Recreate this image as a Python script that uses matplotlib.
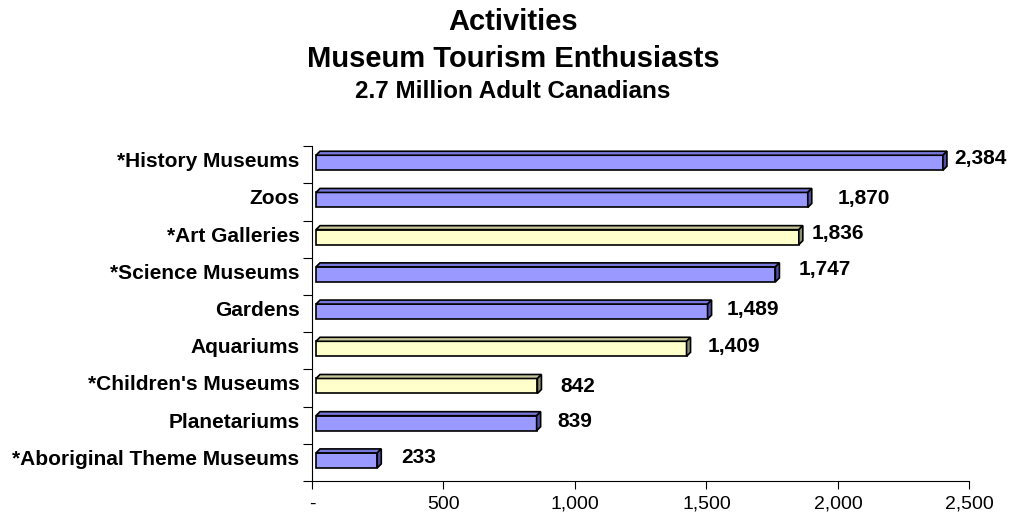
import numpy as np
import matplotlib.pyplot as plt
from matplotlib.patches import Polygon
import matplotlib.transforms as mtransforms

plt.rcParams['font.family'] = ['Liberation Sans', 'DejaVu Sans']

activities = ['*History Museums', 'Zoos', '*Art Galleries', '*Science Museums',
              'Gardens', 'Aquariums', "*Children's Museums", 'Planetariums',
              '*Aboriginal Theme Museums']
counts = [2384, 1870, 1836, 1747, 1489, 1409, 842, 839, 233]
groups = ['blue', 'blue', 'yellow', 'blue', 'blue', 'yellow', 'yellow', 'blue', 'blue']
xticks = [0, 500, 1000, 1500, 2000, 2500]

# front, top, side colours of the 3-D bars
palette = {'blue': ('#9999ff', '#7878dc', '#5050a4'),
           'yellow': ('#ffffcc', '#c8c89c', '#8f8f70')}
# value label offsets in pixels (right, up)
label_nudge = [(15, 6), (34, 3), (17, 6), (27, 7), (23, 4), (25, 4), (27, 1), (25, 4), (28, 5)]

fig = plt.figure(figsize=(10.13, 5.16), dpi=100)
ax = fig.add_axes([0.308, 0.0678, 0.649, 0.649])
n = len(activities)
ax.set_xlim(0, 2500)
ax.set_ylim(n - 0.5, -0.5)

W, H = fig.get_size_inches() * fig.dpi
ux = 2500 / (0.649 * W)   # data units per pixel
uy = n / (0.649 * H)

shift = 4 * ux      # gap between wall and front face
dx = 4 * ux         # bar depth
dy = 4 * uy
bar_h = 15 * uy
lift = 2 * uy

ypos = np.arange(n) - lift
fronts = [palette[g][0] for g in groups]
ax.barh(ypos, counts, left=shift, height=bar_h, color=fronts,
        edgecolor='black', linewidth=1.2, zorder=3)

for y, v, g in zip(ypos, counts, groups):
    _, top, side = palette[g]
    x0, x1 = shift, v + shift
    yt, yb = y - bar_h / 2, y + bar_h / 2
    ax.add_patch(Polygon([(x0, yt), (x1, yt), (x1 + dx, yt - dy), (x0 + dx, yt - dy)],
                         closed=True, fc=top, ec='black', lw=1.2, zorder=3))
    ax.add_patch(Polygon([(x1, yb), (x1, yt), (x1 + dx, yt - dy), (x1 + dx, yb - dy)],
                         closed=True, fc=side, ec='black', lw=1.2, zorder=3))

for i, (v, (ox, oy)) in enumerate(zip(counts, label_nudge)):
    ax.annotate(f'{v:,}', xy=(v, i), xytext=(ox, oy), textcoords='offset pixels',
                ha='left', va='center', fontsize=15, fontweight='bold')

# axes styling
for s in ['top', 'right']:
    ax.spines[s].set_visible(False)
for s in ['left', 'bottom']:
    ax.spines[s].set_linewidth(0.8)

ax.set_xticks(xticks)
ax.set_xticklabels(['-' if t == 0 else f'{t:,}' for t in xticks], fontsize=14)
ax.tick_params(axis='x', direction='out', length=6, width=0.8, pad=4.5)

ax.set_yticks(np.arange(n))
ax.set_yticklabels(activities, fontsize=15, fontweight='bold')
ax.set_yticks(np.arange(n + 1) - 0.5, minor=True)
ax.tick_params(axis='y', which='major', length=0, pad=9)
ax.tick_params(axis='y', which='minor', direction='out', length=6.5, width=0.8)
lift_tf = mtransforms.ScaledTranslation(0, 5 / 100, fig.dpi_scale_trans)
for lab in ax.get_yticklabels():
    lab.set_transform(lab.get_transform() + lift_tf)

fig.text(513 / W, 1 - 30 / H, 'Activities', ha='center', va='baseline',
         fontsize=21, fontweight='bold')
fig.text(513 / W, 1 - 67 / H, 'Museum Tourism Enthusiasts', ha='center', va='baseline',
         fontsize=21, fontweight='bold')
fig.text(513 / W, 1 - 98 / H, '2.7 Million Adult Canadians', ha='center', va='baseline',
         fontsize=17.5, fontweight='bold')

fig.savefig('out.png', dpi=100)
